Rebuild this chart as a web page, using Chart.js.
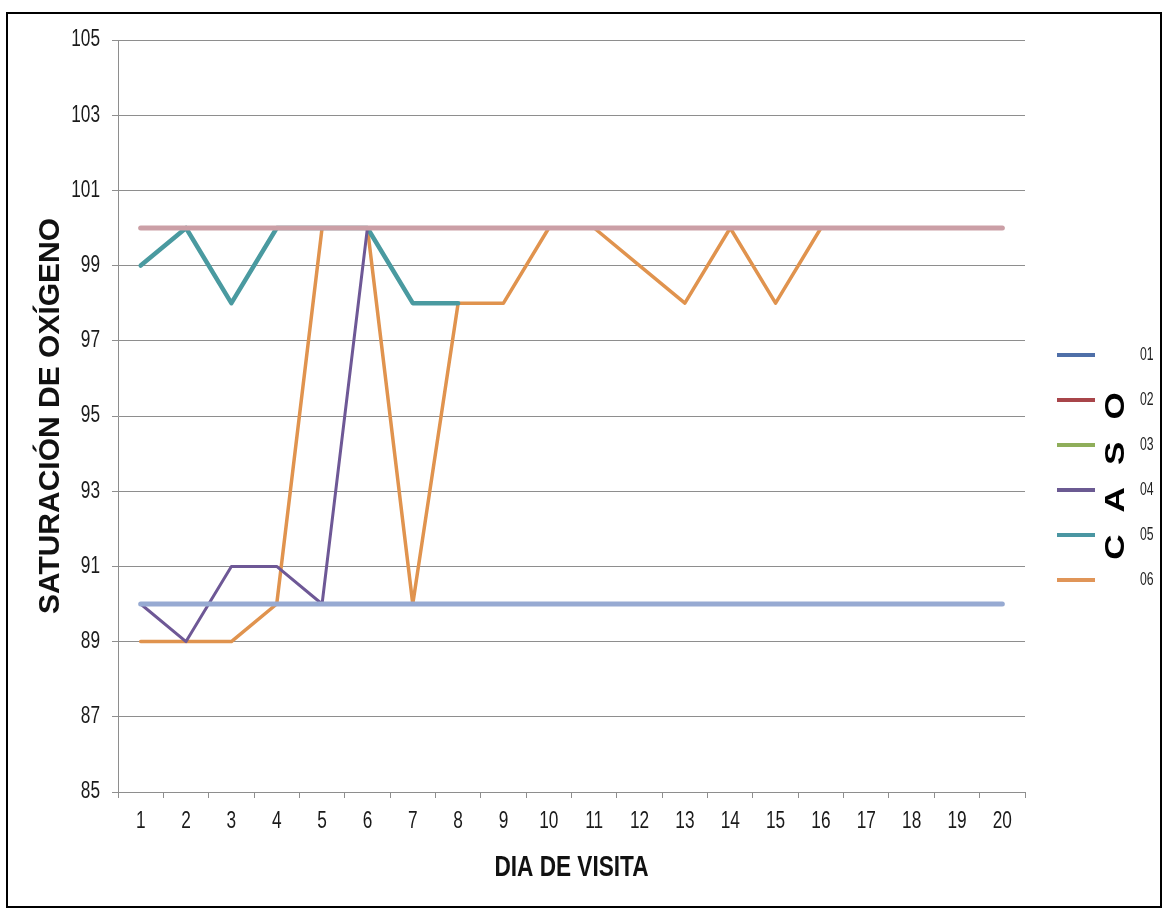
<!DOCTYPE html>
<html>
<head>
<meta charset="utf-8">
<script src="https://cdn.jsdelivr.net/npm/chart.js@4.4.1/dist/chart.umd.min.js"></script>
<style>
  html, body { margin: 0; padding: 0; background: #fff; }
  #wrap { position: relative; width: 1169px; height: 916px; }
  #frame { position: absolute; left: 6px; top: 12px; width: 1152px; height: 892px; border: 2px solid #000; pointer-events: none; }
  #caso {
    position: absolute; left: 1115px; top: 476px;
    transform: translate(-50%, -50%) rotate(-90deg) scale(1.3, 1);
    font: bold 27px "Liberation Sans", sans-serif; color: #000;
    letter-spacing: 17px; white-space: nowrap; padding-left: 17px;
  }
</style>
</head>
<body>
<div id="wrap">
  <canvas id="c" width="1169" height="916"></canvas>
  <div id="frame"></div>
  <div id="caso">CASO</div>
</div>
<script>
// días de visita y valores por caso
const dias = ['1','2','3','4','5','6','7','8','9','10','11','12','13','14','15','16','17','18','19','20'];
const caso01 = [90,90,90,90,90,90,90,90,90,90,90,90,90,90,90,90,90,90,90,90];
const caso02 = [100,100,100,100,100,100,100,100,100,100,100,100,100,100,100,100,100,100,100,100];
const caso03 = [100,100,100,100,100,100,100,100,100,100,100,100,100,100,100,100,100,100,100,100];
const caso04 = [90,89,91,91,90,100,null,null,null,null,null,null,null,null,null,null,null,null,null,null];
const caso05 = [99,100,98,100,100,100,98,98,null,null,null,null,null,null,null,null,null,null,null,null];
const caso06 = [89,89,89,90,100,100,90,98,98,100,100,99,98,100,98,100,null,null,null,null];
const yTicks = [85,87,89,91,93,95,97,99,101,103,105];

const casos = ['01','02','03','04','05','06'];
const lineColors = ['#97aad2','#cb9fa6','#9bbb59','#6e5896','#4a9aa0','#e0934e'];
const legendColors = ['#4f6fa8','#a8454a','#8fae5a','#6b5a92','#4a96a2','#e09558'];
const widths = [5, 5, 4, 3, 4.5, 3.5];

const series = [caso01, caso02, caso03, caso04, caso05, caso06];

// texto estrecho (como Calibri comprimido)
function narrowText(ctx, txt, x, y, font, align, sx) {
  ctx.save();
  ctx.translate(x, y);
  ctx.scale(sx, 1);
  ctx.font = font;
  ctx.textAlign = align;
  ctx.textBaseline = 'middle';
  ctx.fillText(txt, 0, 0);
  ctx.restore();
}

const textPlugin = {
  id: 'narrowLabels',
  afterDraw(chart) {
    const ctx = chart.ctx;
    const { x, y } = chart.scales;
    const area = chart.chartArea;
    ctx.save();
    ctx.fillStyle = '#1a1a1a';
    const tickFont = '23px "Liberation Sans", sans-serif';
    yTicks.forEach(v => narrowText(ctx, String(v), 100, y.getPixelForValue(v), tickFont, 'right', 0.75));
    dias.forEach((d, i) => narrowText(ctx, d, x.getPixelForTick(i), 822, tickFont, 'center', 0.75));
    ctx.fillStyle = '#111';
    narrowText(ctx, 'DIA DE VISITA', (area.left + area.right) / 2, 868, 'bold 29px "Liberation Sans", sans-serif', 'center', 0.78);

    // leyenda
    chart.data.datasets.forEach((ds, i) => {
      const ly = 355 + i * 45;
      ctx.strokeStyle = legendColors[i];
      ctx.lineWidth = 4;
      ctx.beginPath();
      ctx.moveTo(1057, ly);
      ctx.lineTo(1095, ly);
      ctx.stroke();
      ctx.fillStyle = '#222';
      narrowText(ctx, ds.label, 1140, ly, '18px "Liberation Sans", sans-serif', 'left', 0.68);
    });
    ctx.restore();
  }
};

const gridGray = '#8e8e8e';

new Chart(document.getElementById('c'), {
  type: 'line',
  data: {
    labels: dias,
    datasets: series.map((d, i) => ({
      label: casos[i],
      data: d,
      borderColor: lineColors[i],
      backgroundColor: lineColors[i],
      borderWidth: widths[i],
      borderJoinStyle: 'round',
      borderCapStyle: 'round',
      pointRadius: 0,
      tension: 0,
      spanGaps: false,
    })),
  },
  options: {
    responsive: false,
    animation: false,
    layout: { padding: { left: 0, right: 144, top: 40, bottom: 0 } },
    plugins: { legend: { display: false }, tooltip: { enabled: false } },
    scales: {
      x: {
        offset: true,
        grid: { offset: true, drawOnChartArea: false, tickLength: 6, color: gridGray },
        border: { color: gridGray },
        ticks: { display: false },
        afterFit: s => { s.height = 124; },
      },
      y: {
        min: 85, max: 105,
        afterBuildTicks: s => { s.ticks = yTicks.map(v => ({ value: v })); },
        grid: { color: gridGray, tickLength: 6 },
        border: { color: gridGray },
        ticks: { display: false },
        title: {
          display: true, text: 'SATURACIÓN DE OXÍGENO', color: '#111',
          font: { family: '"Liberation Sans", sans-serif', size: 30, weight: 'bold' },
          padding: { top: 33, bottom: 0 },
        },
        afterFit: s => { s.width = 118; },
      },
    },
  },
  plugins: [textPlugin],
});
</script>
</body>
</html>
